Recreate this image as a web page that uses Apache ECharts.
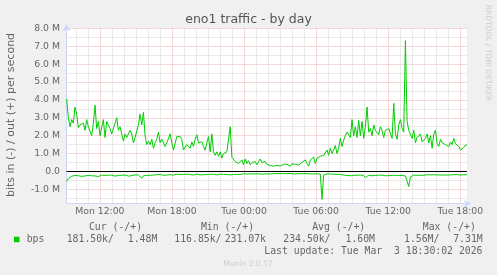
<!DOCTYPE html>
<html><head><meta charset="utf-8">
<script src="https://cdn.jsdelivr.net/npm/echarts@6/dist/echarts.min.js"></script>
<style>html,body{margin:0;padding:0;background:#F0F0F0}#c{width:497px;height:275px}</style>
</head><body><div id="c"></div>
<script>
// time in minutes since Mon 00:00
const xMin = 553.5;
const xMax = 2553.5;
const startMinute = 554.3;
const stepMinutes = 25 / 3;

// bits out (+), in millions
const outValues = [
 4.05,3.0,2.5,2.9,2.7,3.6,3.2,2.45,2.6,2.5,
 2.7,2.3,2.9,2.5,2.4,2.0,2.7,3.7,2.4,2.8,
 2.0,2.1,2.9,1.9,2.8,2.6,2.4,2.1,2.2,2.7,
 3.0,2.3,2.5,2.4,1.7,2.1,1.9,2.0,2.3,2.1,
 1.6,1.9,1.8,2.6,3.2,2.6,3.3,2.0,1.5,1.7,
 1.5,1.8,1.3,1.6,1.8,2.2,1.6,1.8,1.7,1.4,
 1.6,1.5,2.1,1.6,1.2,1.1,1.95,2.0,1.95,1.8,
 1.2,1.1,1.5,1.6,1.3,1.65,1.4,1.8,2.05,1.6,
 1.5,1.65,1.4,1.2,1.6,1.95,1.1,2.1,1.1,0.9,
 1.1,0.85,1.1,0.75,1.0,0.9,1.1,1.0,2.5,0.8,
 0.7,0.55,0.65,0.45,0.55,0.65,0.37,0.7,0.45,0.6,
 0.37,0.5,0.4,0.55,0.37,0.45,0.7,0.5,0.4,0.55,
 0.4,0.35,0.33,0.37,0.3,0.36,0.34,0.4,0.3,0.36,
 0.4,0.33,0.4,0.36,0.3,0.43,0.36,0.4,0.45,0.36,
 0.43,0.5,0.4,0.65,0.45,0.3,0.65,0.55,0.8,0.45,
 0.73,0.7,0.85,0.78,0.9,0.82,1.2,0.9,1.3,1.0,
 1.2,1.45,1.0,1.3,1.85,1.4,1.75,2.0,2.2,2.2,
 1.9,2.9,2.0,2.5,1.9,2.85,2.0,2.8,1.85,2.5,
 3.6,2.2,2.4,2.0,2.6,2.3,2.3,2.05,2.5,2.3,
 1.9,2.3,2.2,2.4,2.3,1.85,3.8,2.1,1.8,2.6,
 2.9,2.4,2.2,7.31,2.8,2.3,2.4,1.85,2.3,1.6,
 1.9,2.0,2.1,1.65,1.6,1.85,2.1,1.6,2.0,1.3,
 2.1,2.3,1.55,1.4,1.8,1.6,1.6,1.5,1.6,1.4,
 1.65,1.5,1.85,1.55,1.5,1.4,1.2,1.15,1.35,1.47,
 1.48
];

// bits in (-), in millions, drawn below zero
const inValues = [
 -0.56,-0.38,-0.3,-0.27,-0.25,-0.22,-0.26,-0.24,-0.2,-0.27,
 -0.23,-0.25,-0.3,-0.22,-0.26,-0.24,-0.2,-0.25,-0.22,-0.28,
 -0.23,-0.2,-0.25,-0.22,-0.27,-0.21,-0.24,-0.2,-0.23,-0.26,
 -0.2,-0.22,-0.25,-0.21,-0.24,-0.2,-0.22,-0.26,-0.2,-0.23,
 -0.21,-0.19,-0.24,-0.2,-0.22,-0.38,-0.24,-0.2,-0.22,-0.19,
 -0.21,-0.18,-0.2,-0.22,-0.18,-0.2,-0.17,-0.19,-0.21,-0.18,
 -0.2,-0.17,
 -0.18,-0.16,-0.2,-0.17,-0.15,-0.19,-0.17,-0.2,-0.16,-0.18,
 -0.15,-0.19,-0.17,-0.16,-0.2,-0.18,-0.15,-0.17,-0.19,-0.16,
 -0.18,-0.15,-0.17,-0.2,-0.16,-0.18,-0.15,-0.17,-0.19,-0.16,
 -0.15,-0.18,-0.16,-0.2,-0.17,-0.15,-0.19,-0.28,-0.17,-0.15,
 -0.16,-0.14,-0.17,-0.15,-0.13,-0.16,-0.14,-0.15,-0.13,-0.16,
 -0.14,-0.15,-0.13,-0.16,-0.14,-0.13,-0.15,-0.14,-0.13,-0.15,-0.14,
 -0.13,-0.12,-0.14,-0.12,-0.13,-0.11,-0.13,-0.12,-0.14,-0.12,
 -0.13,-0.11,-0.12,-0.14,-0.12,-0.13,-0.11,-0.12,-0.14,-0.12,
 -0.13,-0.12,-0.11,-0.13,-0.12,-0.14,-0.12,-0.13,-0.12,-0.15,
 -1.56,-0.2,-0.14,-0.13,-0.15,-0.14,-0.16,-0.15,-0.17,-0.16,
 -0.18,-0.17,-0.19,-0.2,-0.18,-0.22,-0.2,-0.24,-0.32,-0.22,
 -0.25,-0.21,-0.23,-0.2,-0.26,-0.22,-0.34,-0.24,-0.21,-0.22,
 -0.24,-0.2,-0.22,-0.25,-0.21,-0.23,-0.2,-0.22,-0.24,-0.21,
 -0.23,-0.2,-0.22,-0.25,-0.21,-0.2,-0.23,-0.21,-0.22,-0.2,
 -0.25,-0.3,-0.84,-0.3,-0.22,-0.2,-0.23,-0.21,-0.2,-0.22,
 -0.19,-0.21,-0.2,-0.18,-0.21,-0.19,-0.2,-0.18,-0.2,-0.19,
 -0.17,-0.2,-0.18,-0.19,-0.17,-0.2,-0.18,-0.19,-0.17,-0.18,
 -0.19,-0.17,-0.18,-0.2,-0.17,-0.18,-0.19,-0.18
];

const xMinorTicks = [600,660,780,840,900,960,1020,1140,1200,1260,1320,1380,1500,1560,1620,1680,1740,1860,1920,1980,2040,2100,2220,2280,2340,2400,2460];
const xMajorTicks = [720,1080,1440,1800,2160,2520];
const xTickLabels = ['Mon 12:00','Mon 18:00','Tue 00:00','Tue 06:00','Tue 12:00','Tue 18:00'];
const yMinorTicks = [-1.5,-0.5,0.5,1.5,2.5,3.5,4.5,5.5,6.5,7.5];
const yMajorTicks = [-1,0,1,2,3,4,5,6,7,8];
const yTickLabels = ['-1.0 M','0.0','1.0 M','2.0 M','3.0 M','4.0 M','5.0 M','6.0 M','7.0 M','8.0 M'];

const titleText = 'eno1 traffic - by day';
const yName = 'bits in (-) / out (+) per second';
const legendName = 'bps';
const legendHeaders = ['Cur (-/+)','Min (-/+)','Avg (-/+)','Max (-/+)'];
const legendIn = ['181.50k/','116.85k/','234.50k/','1.56M/'];
const legendOut = ['1.48M','231.07k','1.60M','7.31M'];
const lastUpdate = 'Last update: Tue Mar  3 18:30:02 2026';
const footer = 'Munin 2.0.57';
const sideText = 'RRDTOOL / TOBI OETIKER';

const outData = outValues.map((v, i) => [startMinute + i * stepMinutes, v]);
const inData = inValues.map((v, i) => [startMinute + i * stepMinutes, v]);

const FONT = '"DejaVu Sans", sans-serif';
const MONO = '"DejaVu Sans Mono", monospace';
const TXT = '#666666';
const MINOR = '#D6D6D6';
const MAJOR = '#EEB2B2';
const AXIS = '#CFD6F8';
const GREEN = '#00CC00';

const chart = echarts.init(document.getElementById('c'), null, {renderer: 'canvas'});

const headerX = [115.5, 227.5, 338.7, 449.3];
const inX = [66.7, 174.3, 283.3, 404];
const outX = [157.3, 266, 375, 482.7];

const graphics = [
  {type:'text', x:248.5, y:19.5, style:{text:titleText, font:'12.5px ' + FONT, fill:'#555555', align:'center', verticalAlign:'middle'}},
  {type:'text', x:11, y:115, rotation:Math.PI/2, style:{text:yName, font:'11px ' + FONT, fill:TXT, align:'center', verticalAlign:'middle'}},
  {type:'text', x:488, y:53, rotation:-Math.PI/2, style:{text:sideText, font:'7.5px ' + FONT, fill:'#CCCCCC', align:'center', verticalAlign:'middle'}},
  {type:'rect', shape:{x:14, y:236.7, width:5.5, height:5.5}, style:{fill:GREEN}},
  {type:'text', x:26.7, y:239.5, style:{text:legendName, font:'9.8px ' + MONO, fill:TXT, align:'left', verticalAlign:'middle'}},
  {type:'text', x:482.5, y:251.7, style:{text:lastUpdate, font:'9.8px ' + MONO, fill:TXT, align:'right', verticalAlign:'middle'}},
  {type:'text', x:248, y:264.3, style:{text:footer, font:'7.5px ' + FONT, fill:'#CCCCCC', align:'center', verticalAlign:'middle'}}
];
legendHeaders.forEach((h, i) => graphics.push({type:'text', x:headerX[i], y:227.7, style:{text:h, font:'9.8px ' + MONO, fill:TXT, align:'center', verticalAlign:'middle'}}));
legendIn.forEach((h, i) => graphics.push({type:'text', x:inX[i], y:239.5, style:{text:h, font:'9.8px ' + MONO, fill:TXT, align:'left', verticalAlign:'middle'}}));
legendOut.forEach((h, i) => graphics.push({type:'text', x:outX[i], y:239.5, style:{text:h, font:'9.8px ' + MONO, fill:TXT, align:'right', verticalAlign:'middle'}}));

const dotted = [1, 1];

chart.setOption({
  animation: false,
  backgroundColor: '#F0F0F0',
  grid: {left: 66.5, top: 28.3, width: 400.5, height: 175.4, backgroundColor: '#FFFFFF', show: true, borderWidth: 0},
  xAxis: [
    {type:'value', min:xMin, max:xMax, position:'bottom',
     axisLine:{show:false}, axisLabel:{show:false},
     axisTick:{show:false, customValues:xMinorTicks},
     splitLine:{show:true, lineStyle:{color:MINOR, width:1, type:dotted}}},
    {type:'value', min:xMin, max:xMax, position:'bottom',
     axisLine:{show:true, onZero:false, lineStyle:{color:AXIS, width:1}, symbol:['none','arrow'], symbolSize:[6,7], symbolOffset:[0,4]},
     axisTick:{show:false, customValues:xMajorTicks},
     axisLabel:{show:true, customValues:xMajorTicks, margin:3, color:TXT, fontFamily:FONT, fontSize:9.3,
       formatter:(v) => xTickLabels[xMajorTicks.indexOf(v)] || ''},
     splitLine:{show:true, lineStyle:{color:MAJOR, width:1, type:dotted}}}
  ],
  yAxis: [
    {type:'value', min:-1.8, max:8, position:'left',
     axisLine:{show:false}, axisLabel:{show:false},
     axisTick:{show:false, customValues:yMinorTicks},
     splitLine:{show:true, lineStyle:{color:MINOR, width:1, type:dotted}}},
    {type:'value', min:-1.8, max:8, position:'left',
     axisLine:{show:true, onZero:false, lineStyle:{color:AXIS, width:1}, symbol:['none','arrow'], symbolSize:[6,7], symbolOffset:[0,4]},
     axisTick:{show:false, customValues:yMajorTicks},
     axisLabel:{show:true, customValues:yMajorTicks, margin:6.5, color:TXT, fontFamily:FONT, fontSize:9.3,
       formatter:(v) => { const k = yMajorTicks.findIndex(t => Math.abs(t - v) < 1e-9); return k >= 0 ? yTickLabels[k] : ''; }},
     splitLine:{show:true, lineStyle:{color:MAJOR, width:1, type:dotted}}}
  ],
  series: [
    {type:'line', name:'out', xAxisIndex:0, yAxisIndex:0, data:outData, showSymbol:false, symbol:'none',
     lineStyle:{color:GREEN, width:1}, z:3,
     markLine:{silent:true, symbol:['none','none'], label:{show:false}, animation:false,
       lineStyle:{color:'#000000', width:1, type:'solid'}, data:[{yAxis:0}]}},
    {type:'line', name:'in', xAxisIndex:0, yAxisIndex:0, data:inData, showSymbol:false, symbol:'none',
     lineStyle:{color:GREEN, width:1}, z:3}
  ],
  graphic: graphics
});
</script>
</body></html>
